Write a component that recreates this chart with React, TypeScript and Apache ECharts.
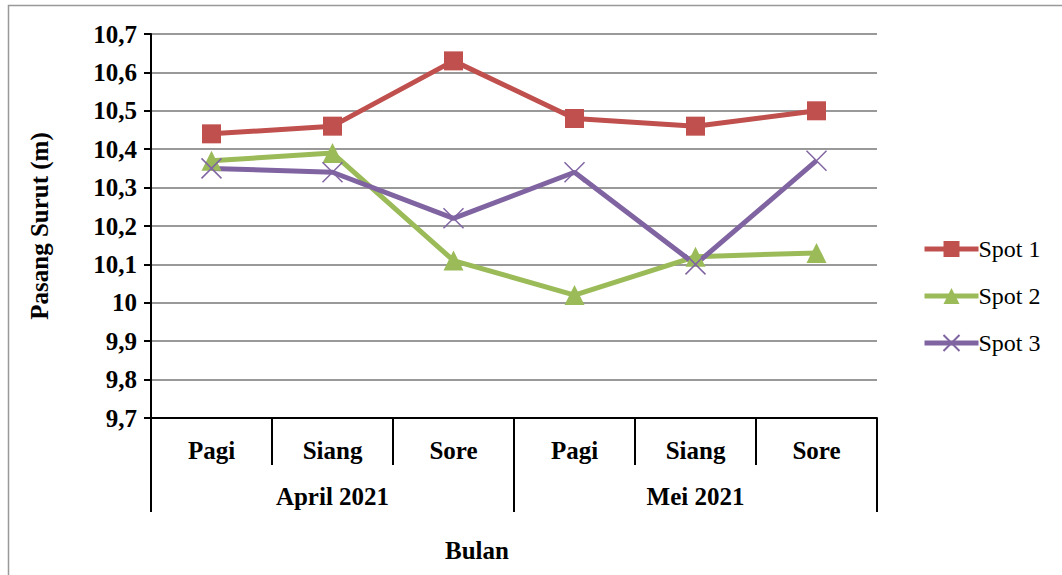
import React, { useEffect, useRef } from "react";
import * as echarts from "echarts";

const categories = ["Pagi", "Siang", "Sore", "Pagi", "Siang", "Sore"];
const groups = ["April 2021", "Mei 2021"];
const spot1 = [10.44, 10.46, 10.63, 10.48, 10.46, 10.5];
const spot2 = [10.37, 10.39, 10.11, 10.02, 10.12, 10.13];
const spot3 = [10.35, 10.34, 10.22, 10.34, 10.1, 10.37];
const seriesNames = ["Spot 1", "Spot 2", "Spot 3"];

const FONT = "Liberation Serif";

export default function App() {
  const ref = useRef<HTMLDivElement>(null);
  useEffect(() => {
    document.body.style.margin = "0";
    const chart = echarts.init(ref.current!, null, { renderer: "svg" });
    const fmt = (v: number) => {
      const r = Math.round(v * 10) / 10;
      return Number.isInteger(r) ? String(r) : r.toFixed(1).replace(".", ",");
    };
    chart.setOption({
      animation: false,
      backgroundColor: "#fff",
      textStyle: { fontFamily: FONT },
      grid: { left: 151, right: 185, top: 34, bottom: 157, containLabel: false },
      legend: {
        orient: "vertical",
        left: 917,
        top: 232,
        itemWidth: 54,
        itemHeight: 20,
        itemGap: 23,
        lineStyle: { width: 5 },
        textStyle: { fontFamily: FONT, fontSize: 24, color: "#000", padding: [0, 0, 0, -5] },
        data: seriesNames,
      },
      xAxis: [
        {
          type: "category",
          data: categories,
          position: "bottom",
          axisLine: { show: true, lineStyle: { color: "#000", width: 2 } },
          axisTick: { show: true, interval: 0, length: 47, lineStyle: { color: "#000", width: 2 } },
          axisLabel: { fontFamily: FONT, fontWeight: "bold", fontSize: 25, color: "#000", margin: 20 },
        },
        {
          type: "category",
          data: groups,
          position: "bottom",
          axisLine: { show: false },
          axisTick: { show: true, interval: 0, length: 94, lineStyle: { color: "#000", width: 2 } },
          axisLabel: { fontFamily: FONT, fontWeight: "bold", fontSize: 25, color: "#000", margin: 66 },
        },
      ],
      yAxis: {
        type: "value",
        min: 9.7,
        max: 10.7,
        interval: 0.1,
        name: "Pasang Surut (m)",
        nameLocation: "middle",
        nameGap: 99,
        nameTextStyle: { fontFamily: FONT, fontWeight: "bold", fontSize: 25, color: "#000" },
        axisLine: { show: true, lineStyle: { color: "#000", width: 2 } },
        axisTick: { show: true, length: 7, lineStyle: { color: "#000", width: 2 } },
        axisLabel: { fontFamily: FONT, fontWeight: "bold", fontSize: 25, color: "#000", margin: 14, formatter: fmt },
        splitLine: { lineStyle: { color: "#999", width: 2 } },
      },
      series: [
        {
          name: seriesNames[0],
          type: "line",
          data: spot1,
          symbol: "rect",
          symbolSize: 19,
          color: "#C0504D",
          lineStyle: { width: 5, color: "#C0504D" },
          itemStyle: { color: "#C0504D" },
        },
        {
          name: seriesNames[1],
          type: "line",
          data: spot2,
          symbol: "triangle",
          symbolSize: 20,
          color: "#9BBB59",
          lineStyle: { width: 5, color: "#9BBB59" },
          itemStyle: { color: "#9BBB59" },
        },
        {
          name: seriesNames[2],
          type: "line",
          data: spot3,
          symbol: "path://M0,0L10,10M10,0L0,10",
          symbolSize: 20,
          color: "#8064A2",
          lineStyle: { width: 5, color: "#8064A2" },
          itemStyle: { color: "#8064A2", borderColor: "#8064A2", borderWidth: 1.5 },
        },
      ],
      graphic: [
        {
          type: "rect",
          shape: { x: 8.5, y: 5.5, width: 1200, height: 700 },
          style: { fill: "none", stroke: "#999", lineWidth: 1.5 },
          silent: true,
        },
        {
          type: "text",
          x: 477,
          y: 550,
          style: {
            text: "Bulan",
            fontFamily: FONT,
            fontWeight: "bold",
            fontSize: 25,
            fill: "#000",
            textAlign: "center",
            textVerticalAlign: "middle",
          },
        },
      ],
    });
    return () => chart.dispose();
  }, []);
  return <div ref={ref} style={{ width: 1062, height: 575 }} />;
}
